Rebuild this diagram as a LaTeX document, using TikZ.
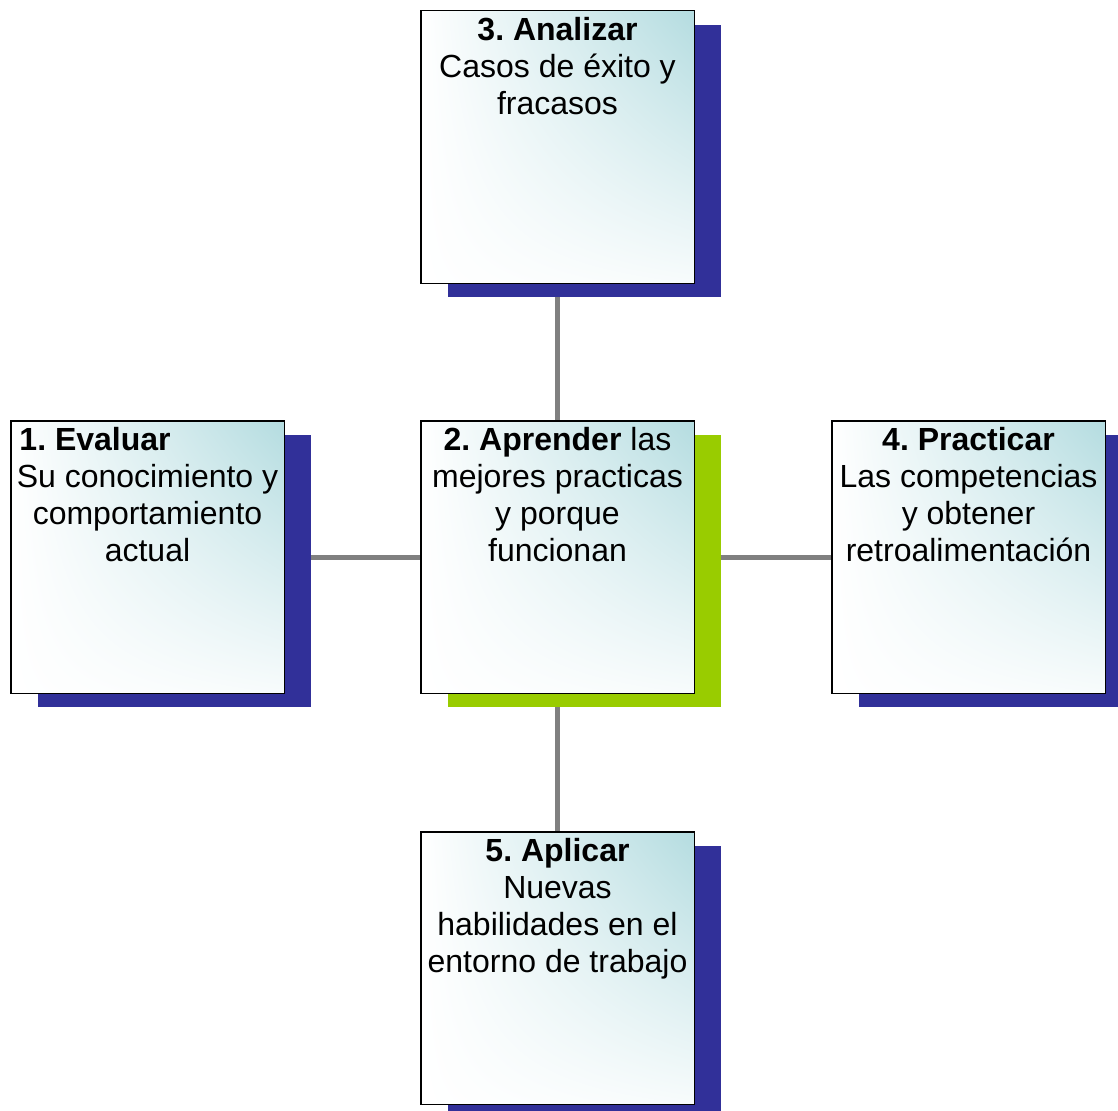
\documentclass[tikz,border=0pt]{standalone}
\usepackage{fontspec}
\setmainfont{Liberation Sans}
\usetikzlibrary{shadows,backgrounds,shadings}
\definecolor{navyc}{RGB}{49,48,153}
\definecolor{greenc}{RGB}{153,204,0}
\definecolor{tealc}{RGB}{180,220,224}
\definecolor{linec}{RGB}{128,128,128}
\tikzset{
  box/.style={draw=black, line width=1.5pt, minimum width=273.5pt, minimum height=272.5pt,
    anchor=north west, inner sep=0pt,
    upper right=tealc, upper left=white, lower left=white, lower right=tealc!10!white},
  navyshadow/.style={drop shadow={shadow xshift=27pt, shadow yshift=-14pt, fill=navyc, opacity=1, draw=none}},
  greenshadow/.style={drop shadow={shadow xshift=27pt, shadow yshift=-14pt, fill=greenc, opacity=1, draw=none}},
  txt/.style={anchor=north, align=center, inner sep=0pt, font=\fontsize{32}{37}\selectfont\frenchspacing},
  conn/.style={draw=linec, line width=5pt}
}
\begin{document}
\begin{tikzpicture}[x=1pt, y=-1pt]
\useasboundingbox (0,0) rectangle (1118,1110);
\node[box, navyshadow] (b3) at (420,10) {};
\node[box, navyshadow] (b1) at (10,420) {};
\node[box, greenshadow] (b2) at (420,420) {};
\node[box, navyshadow] (b4) at (831,420) {};
\node[box, navyshadow] (b5) at (420,831) {};
\begin{scope}[on background layer]
  \draw[conn] (b3.center) -- (b2.center);
  \draw[conn] (b1.center) -- (b2.center);
  \draw[conn] (b2.center) -- (b4.center);
  \draw[conn] (b2.center) -- (b5.center);
\end{scope}
\node[txt] (t3) at ([yshift=-4.6pt]b3.north) {\strut\textbf{3. Analizar}\\Casos de éxito y\\fracasos};
\node[txt] (t1) at ([yshift=-4.6pt]b1.north) {\strut\makebox[256pt][l]{\textbf{1. Evaluar}}\\Su conocimiento y\\comportamiento\\actual};
\node[txt] (t2) at ([yshift=-4.6pt]b2.north) {\strut\textbf{2. Aprender} las\\mejores practicas\\y porque\\funcionan};
\node[txt] (t4) at ([yshift=-4.6pt]b4.north) {\strut\textbf{4. Practicar}\\Las competencias\\y obtener\\retroalimentación};
\node[txt] (t5) at ([yshift=-4.6pt]b5.north) {\strut\textbf{5. Aplicar}\\Nuevas\\habilidades en el\\entorno de trabajo};
\end{tikzpicture}
\end{document}
